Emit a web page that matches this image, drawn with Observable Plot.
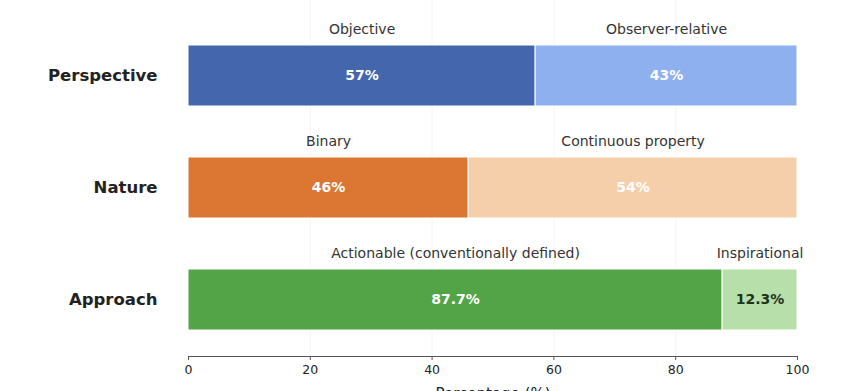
<!DOCTYPE html>
<html>
<head>
<meta charset="utf-8">
<script src="https://cdn.jsdelivr.net/npm/d3@7"></script>
<script src="https://cdn.jsdelivr.net/npm/@observablehq/plot@0.6"></script>
<style>
  html, body { margin: 0; padding: 0; background: #ffffff; overflow: hidden; }
  #chart { width: 844px; height: 391px; overflow: hidden; }
  svg { font-family: "DejaVu Sans", sans-serif; }
</style>
</head>
<body>
<div id="chart"></div>
<script>
const categories = ["Perspective", "Nature", "Approach"];
const firstLabels = ["Objective", "Binary", "Actionable (conventionally defined)"];
const secondLabels = ["Observer-relative", "Continuous property", "Inspirational"];
const firstValues = [57, 46, 87.7];
const secondValues = [43, 54, 12.3];
const valueLabels1 = ["57%", "46%", "87.7%"];
const valueLabels2 = ["43%", "54%", "12.3%"];
const xTicks = [0, 20, 40, 60, 80, 100];

const darkColors = ["#4466ad", "#dc7633", "#53a347"];
const lightColors = ["#8fb0ee", "#f5cfaa", "#b6dfaa"];
const valueTextColors1 = ["#ffffff", "#ffffff", "#ffffff"];
const valueTextColors2 = ["#ffffff", "#ffffff", "#1c331c"];

const segments = [];
categories.forEach((c, i) => {
  segments.push({cat: c, x1: 0, x2: firstValues[i], fill: darkColors[i], name: firstLabels[i], val: valueLabels1[i], tfill: valueTextColors1[i]});
  segments.push({cat: c, x1: firstValues[i], x2: firstValues[i] + secondValues[i], fill: lightColors[i], name: secondLabels[i], val: valueLabels2[i], tfill: valueTextColors2[i]});
});
segments.forEach(d => d.xm = (d.x1 + d.x2) / 2);

const plot = Plot.plot({
  width: 844,
  height: 400,
  marginLeft: 188,
  marginRight: 47,
  marginTop: 18,
  marginBottom: 44,
  style: {fontFamily: "DejaVu Sans, sans-serif", background: "#ffffff"},
  x: {domain: [0, 100]},
  y: {domain: categories, paddingInner: 0.4578, paddingOuter: 0.2311},
  marks: [
    Plot.gridX([20, 40, 60, 80], {stroke: "#f2f2f2", strokeOpacity: 1, strokeWidth: 0.8, insetTop: -18}),
    Plot.barX(segments, {x1: "x1", x2: "x2", y: "cat", fill: d => d.fill, stroke: "#ffffff", strokeWidth: 1}),
    Plot.text(segments, {x: "xm", y: "cat", text: "val", fill: d => d.tfill, fontWeight: "bold", fontSize: 14}),
    Plot.text(segments, {x: "xm", y: "cat", text: "name", dy: -46.5, fill: "#333333", fontSize: 14}),
    Plot.frame({anchor: "bottom", stroke: "#555555", strokeWidth: 1}),
    Plot.axisX({ticks: xTicks, tickSize: 4, tickPadding: 5, fontSize: 12.5, fill: "#222222", stroke: "#555555",
      label: "Percentage (%)", labelAnchor: "center", labelArrow: "none", labelOffset: 42}),
    Plot.axisY({tickSize: 0, tickPadding: 31, fontSize: 16.5, fontWeight: "bold", fill: "#222222", label: null})
  ]
});

document.getElementById("chart").appendChild(plot);
plot.querySelectorAll("g[aria-label='x-axis label'] text").forEach(t => { t.setAttribute("font-size", "15"); t.style.fontSize = "15px"; t.setAttribute("fill", "#222"); });
</script>
</body>
</html>
